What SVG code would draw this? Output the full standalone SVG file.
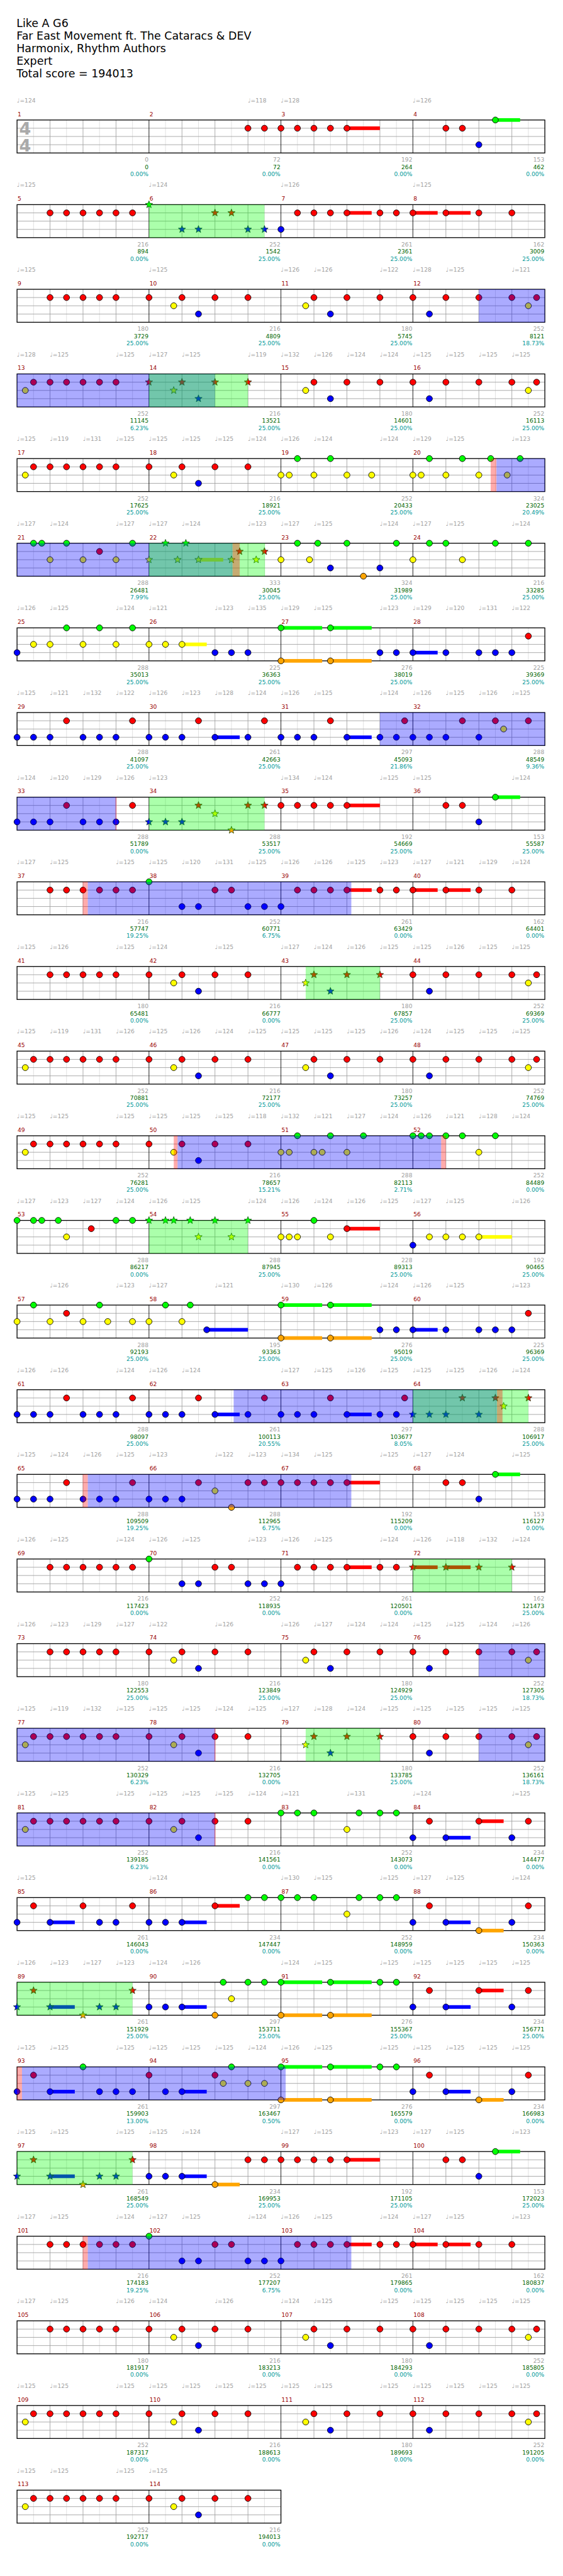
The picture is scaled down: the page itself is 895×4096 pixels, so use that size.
<svg xmlns="http://www.w3.org/2000/svg" width="895" height="4096" viewBox="0 0 895 4096">
<defs>
<style>
text{font-family:"DejaVu Sans",sans-serif}
.h{font-size:20px;fill:#000}
.ts{font-size:31px;font-weight:bold;fill:#aaa}
.t{font-size:10.5px;fill:#a0a0a0}
.m{font-size:10.5px;fill:#900}
.c,.s,.p{font-size:10.5px;text-anchor:end}
.c{fill:#a0a0a0}.s{fill:#060}.p{fill:#099}
.ob{fill:#00f;fill-opacity:.33}.og{fill:#0f0;fill-opacity:.33}.or{fill:#f00;fill-opacity:.33}
.zg{fill:#0f0}.zr{fill:#f00}.zy{fill:#ff0}.zb{fill:#00f}.zo{fill:#ffa500}
</style>
<g id="g4">
<path d="M30 0V60M90 0V60M150 0V60M210 0V60M270 0V60M330 0V60M390 0V60M450 0V60M510 0V60M570 0V60M630 0V60M690 0V60M750 0V60M810 0V60M870 0V60M930 0V60" stroke="#ddd"/>
<path d="M0 15H960M0 30H960M0 45H960M60 0V60M120 0V60M180 0V60M300 0V60M360 0V60M420 0V60M540 0V60M600 0V60M660 0V60M780 0V60M840 0V60M900 0V60" stroke="#a0a0a0"/>
<path d="M240 0V60M480 0V60M720 0V60" stroke="#000"/>
<rect width="960" height="60" fill="none" stroke="#000" stroke-width="1.5"/>
</g>
<g id="g2">
<path d="M30 0V60M90 0V60M150 0V60M210 0V60M270 0V60M330 0V60M390 0V60M450 0V60" stroke="#ddd"/>
<path d="M0 15H480M0 30H480M0 45H480M60 0V60M120 0V60M180 0V60M300 0V60M360 0V60M420 0V60" stroke="#a0a0a0"/>
<path d="M240 0V60" stroke="#000"/>
<rect width="480" height="60" fill="none" stroke="#000" stroke-width="1.5"/>
</g>
<circle id="G" r="5.5" fill="#0f0" stroke="#000"/>
<circle id="R" cy="15" r="5.5" fill="#f00" stroke="#000"/>
<circle id="Y" cy="30" r="5.5" fill="#ff0" stroke="#000"/>
<circle id="B" cy="45" r="5.5" fill="#00f" stroke="#000"/>
<circle id="O" cy="60" r="5.5" fill="#ffa500" stroke="#000"/>
<polygon id="st" points="0,-7 1.76,-2.43 6.66,-2.16 2.85,0.93 4.11,5.66 0,3 -4.11,5.66 -2.85,0.93 -6.66,-2.16 -1.76,-2.43" stroke="#030" stroke-width=".8"/>
<use id="SG" href="#st" fill="#0f0"/>
<use id="SR" href="#st" y="15" fill="#f00"/>
<use id="SY" href="#st" y="30" fill="#ff0"/>
<use id="SB" href="#st" y="45" fill="#00f"/>
<use id="SO" href="#st" y="60" fill="#ffa500"/>
<g id="pA">
<use href="#R" x="60"/><use href="#R" x="90"/><use href="#R" x="120"/><use href="#R" x="150"/><use href="#R" x="180"/><use href="#R" x="240"/><use href="#R" x="300"/><use href="#R" x="360"/><use href="#R" x="420"/><use href="#R" x="540"/><use href="#R" x="600"/><use href="#R" x="660"/><use href="#R" x="720"/><use href="#R" x="780"/><use href="#R" x="840"/><use href="#R" x="900"/><use href="#R" x="945"/>
<use href="#Y" x="285"/><use href="#Y" x="525"/><use href="#Y" x="930"/>
<use href="#B" x="330"/><use href="#B" x="570"/><use href="#B" x="750"/>
</g>
<g id="pB"><use href="#pA"/><use href="#R" x="30"/><use href="#Y" x="15"/></g>
<g id="pC">
<rect class="zr" x="600" y="11.7" width="45" height="6.6"/><rect class="zr" x="720" y="11.7" width="45" height="6.6"/><rect class="zr" x="780" y="11.7" width="45" height="6.6"/>
<use href="#G" x="240"/>
<use href="#R" x="60"/><use href="#R" x="90"/><use href="#R" x="120"/><use href="#R" x="150"/><use href="#R" x="180"/><use href="#R" x="210"/><use href="#R" x="360"/><use href="#R" x="390"/><use href="#R" x="510"/><use href="#R" x="540"/><use href="#R" x="570"/><use href="#R" x="600"/><use href="#R" x="660"/><use href="#R" x="690"/><use href="#R" x="720"/><use href="#R" x="780"/><use href="#R" x="840"/><use href="#R" x="900"/>
<use href="#B" x="300"/><use href="#B" x="330"/><use href="#B" x="420"/><use href="#B" x="450"/><use href="#B" x="480"/>
</g>
</defs>
<rect width="895" height="4096" fill="#fff"/>
<g transform="scale(0.874)">
<g id="header">
<text class="h" x="30" y="49">Like A G6</text>
<text class="h" x="30" y="72">Far East Movement ft. The Cataracs &amp; DEV</text>
<text class="h" x="30" y="95">Harmonix, Rhythm Authors</text>
<text class="h" x="30" y="118">Expert</text>
<text class="h" x="30" y="141">Total score = 194013</text>
</g>

<g id="row1" transform="translate(31,218.3)">
<use href="#g4"/>
<text class="ts" x="4" y="27">4</text><text class="ts" x="4" y="57">4</text>
<rect class="zr" x="600" y="11.7" width="60" height="6.6"/><rect class="zg" x="870" y="-3.3" width="45" height="6.6"/>
<use href="#R" x="420"/><use href="#R" x="450"/><use href="#R" x="480"/><use href="#R" x="510"/><use href="#R" x="540"/><use href="#R" x="570"/><use href="#R" x="600"/><use href="#R" x="780"/><use href="#R" x="810"/><use href="#B" x="840"/><use href="#G" x="870"/>
<text class="t" x="0" y="-32">♩=124</text><text class="t" x="420" y="-32">♩=118</text><text class="t" x="480" y="-32">♩=128</text><text class="t" x="720" y="-32">♩=126</text>
<text class="m" x="1" y="-7">1</text><text class="m" x="241" y="-7">2</text><text class="m" x="481" y="-7">3</text><text class="m" x="721" y="-7">4</text>
<text class="c" x="239" y="76">0</text><text class="s" x="239" y="89">0</text><text class="p" x="239" y="102">0.00%</text>
<text class="c" x="479" y="76">72</text><text class="s" x="479" y="89">72</text><text class="p" x="479" y="102">0.00%</text>
<text class="c" x="719" y="76">192</text><text class="s" x="719" y="89">264</text><text class="p" x="719" y="102">0.00%</text>
<text class="c" x="959" y="76">153</text><text class="s" x="959" y="89">462</text><text class="p" x="959" y="102">0.00%</text>
</g>

<g id="row2" transform="translate(31,372.3)">
<use href="#g4"/>
<rect class="zr" x="600" y="11.7" width="45" height="6.6"/><rect class="zr" x="720" y="11.7" width="45" height="6.6"/><rect class="zr" x="780" y="11.7" width="45" height="6.6"/>
<use href="#R" x="60"/><use href="#R" x="90"/><use href="#R" x="120"/><use href="#R" x="150"/><use href="#R" x="180"/><use href="#R" x="210"/>
<use href="#SG" x="240"/><use href="#SB" x="300"/><use href="#SB" x="330"/><use href="#SR" x="360"/><use href="#SR" x="390"/><use href="#SB" x="420"/><use href="#SB" x="450"/>
<use href="#B" x="480"/><use href="#R" x="510"/><use href="#R" x="540"/><use href="#R" x="570"/><use href="#R" x="600"/><use href="#R" x="660"/><use href="#R" x="690"/><use href="#R" x="720"/><use href="#R" x="780"/><use href="#R" x="840"/><use href="#R" x="900"/>
<rect class="og" x="240" width="210" height="60"/>
<text class="t" x="0" y="-32">♩=125</text><text class="t" x="240" y="-32">♩=124</text><text class="t" x="480" y="-32">♩=126</text><text class="t" x="720" y="-32">♩=125</text>
<text class="m" x="1" y="-7">5</text><text class="m" x="241" y="-7">6</text><text class="m" x="481" y="-7">7</text><text class="m" x="721" y="-7">8</text>
<text class="c" x="239" y="76">216</text><text class="s" x="239" y="89">894</text><text class="p" x="239" y="102">0.00%</text>
<text class="c" x="479" y="76">252</text><text class="s" x="479" y="89">1542</text><text class="p" x="479" y="102">25.00%</text>
<text class="c" x="719" y="76">261</text><text class="s" x="719" y="89">2361</text><text class="p" x="719" y="102">25.00%</text>
<text class="c" x="959" y="76">162</text><text class="s" x="959" y="89">3009</text><text class="p" x="959" y="102">25.00%</text>
</g>

<g id="row3" transform="translate(31,526.3)">
<use href="#g4"/><use href="#pA"/>
<rect class="ob" x="840" width="120" height="60"/>
<text class="t" x="0" y="-32">♩=125</text><text class="t" x="240" y="-32">♩=125</text><text class="t" x="480" y="-32">♩=126</text><text class="t" x="540" y="-32">♩=126</text><text class="t" x="660" y="-32">♩=122</text><text class="t" x="720" y="-32">♩=128</text><text class="t" x="780" y="-32">♩=125</text><text class="t" x="900" y="-32">♩=121</text>
<text class="m" x="1" y="-7">9</text><text class="m" x="241" y="-7">10</text><text class="m" x="481" y="-7">11</text><text class="m" x="721" y="-7">12</text>
<text class="c" x="239" y="76">180</text><text class="s" x="239" y="89">3729</text><text class="p" x="239" y="102">25.00%</text>
<text class="c" x="479" y="76">216</text><text class="s" x="479" y="89">4809</text><text class="p" x="479" y="102">25.00%</text>
<text class="c" x="719" y="76">180</text><text class="s" x="719" y="89">5745</text><text class="p" x="719" y="102">25.00%</text>
<text class="c" x="959" y="76">252</text><text class="s" x="959" y="89">8121</text><text class="p" x="959" y="102">18.73%</text>
</g>

<g id="row4" transform="translate(31,680.3)">
<use href="#g4"/>
<use href="#R" x="30"/><use href="#R" x="60"/><use href="#R" x="90"/><use href="#R" x="120"/><use href="#R" x="150"/><use href="#R" x="180"/>
<use href="#SR" x="240"/><use href="#SR" x="300"/><use href="#SR" x="360"/><use href="#SR" x="420"/>
<use href="#R" x="540"/><use href="#R" x="600"/><use href="#R" x="660"/><use href="#R" x="720"/><use href="#R" x="780"/><use href="#R" x="840"/><use href="#R" x="900"/><use href="#R" x="945"/>
<use href="#Y" x="15"/><use href="#SY" x="285"/><use href="#Y" x="525"/><use href="#Y" x="930"/>
<use href="#SB" x="330"/><use href="#B" x="570"/><use href="#B" x="750"/>
<rect class="ob" x="0" width="360" height="60"/><rect class="og" x="240" width="180" height="60"/>
<text class="t" x="0" y="-32">♩=128</text><text class="t" x="60" y="-32">♩=125</text><text class="t" x="180" y="-32">♩=125</text><text class="t" x="240" y="-32">♩=127</text><text class="t" x="300" y="-32">♩=125</text><text class="t" x="420" y="-32">♩=119</text><text class="t" x="480" y="-32">♩=132</text><text class="t" x="540" y="-32">♩=126</text><text class="t" x="600" y="-32">♩=124</text><text class="t" x="660" y="-32">♩=124</text><text class="t" x="720" y="-32">♩=125</text><text class="t" x="780" y="-32">♩=125</text><text class="t" x="840" y="-32">♩=125</text><text class="t" x="900" y="-32">♩=125</text>
<text class="m" x="1" y="-7">13</text><text class="m" x="241" y="-7">14</text><text class="m" x="481" y="-7">15</text><text class="m" x="721" y="-7">16</text>
<text class="c" x="239" y="76">252</text><text class="s" x="239" y="89">11145</text><text class="p" x="239" y="102">6.23%</text>
<text class="c" x="479" y="76">216</text><text class="s" x="479" y="89">13521</text><text class="p" x="479" y="102">25.00%</text>
<text class="c" x="719" y="76">180</text><text class="s" x="719" y="89">14601</text><text class="p" x="719" y="102">25.00%</text>
<text class="c" x="959" y="76">252</text><text class="s" x="959" y="89">16113</text><text class="p" x="959" y="102">25.00%</text>
</g>

<g id="row5" transform="translate(31,834.3)">
<use href="#g4"/>
<use href="#R" x="30"/><use href="#R" x="60"/><use href="#R" x="90"/><use href="#R" x="120"/><use href="#R" x="150"/><use href="#R" x="180"/><use href="#R" x="240"/><use href="#R" x="300"/><use href="#R" x="360"/><use href="#R" x="420"/>
<use href="#Y" x="15"/><use href="#Y" x="285"/><use href="#Y" x="480"/><use href="#Y" x="495"/><use href="#Y" x="540"/><use href="#Y" x="600"/><use href="#Y" x="645"/><use href="#Y" x="720"/><use href="#Y" x="735"/><use href="#Y" x="780"/><use href="#Y" x="840"/><use href="#Y" x="891.5"/>
<use href="#G" x="510"/><use href="#G" x="570"/><use href="#G" x="750"/><use href="#G" x="810"/><use href="#G" x="861.5"/><use href="#G" x="915"/>
<use href="#B" x="330"/>
<rect class="or" x="861.5" width="10.5" height="60"/><rect class="ob" x="872" width="88" height="60"/>
<text class="t" x="0" y="-32">♩=125</text><text class="t" x="60" y="-32">♩=119</text><text class="t" x="120" y="-32">♩=131</text><text class="t" x="180" y="-32">♩=125</text><text class="t" x="240" y="-32">♩=125</text><text class="t" x="300" y="-32">♩=125</text><text class="t" x="360" y="-32">♩=125</text><text class="t" x="420" y="-32">♩=124</text><text class="t" x="480" y="-32">♩=126</text><text class="t" x="540" y="-32">♩=124</text><text class="t" x="660" y="-32">♩=124</text><text class="t" x="720" y="-32">♩=129</text><text class="t" x="780" y="-32">♩=125</text><text class="t" x="900" y="-32">♩=123</text>
<text class="m" x="1" y="-7">17</text><text class="m" x="241" y="-7">18</text><text class="m" x="481" y="-7">19</text><text class="m" x="721" y="-7">20</text>
<text class="c" x="239" y="76">252</text><text class="s" x="239" y="89">17625</text><text class="p" x="239" y="102">25.00%</text>
<text class="c" x="479" y="76">216</text><text class="s" x="479" y="89">18921</text><text class="p" x="479" y="102">25.00%</text>
<text class="c" x="719" y="76">252</text><text class="s" x="719" y="89">20433</text><text class="p" x="719" y="102">25.00%</text>
<text class="c" x="959" y="76">324</text><text class="s" x="959" y="89">23025</text><text class="p" x="959" y="102">20.49%</text>
</g>

<g id="row6" transform="translate(31,988.3)">
<use href="#g4"/>
<rect class="zy" x="330" y="26.7" width="45" height="6.6"/>
<use href="#G" x="30"/><use href="#G" x="45"/><use href="#G" x="90"/><use href="#G" x="210"/><use href="#SG" x="270"/><use href="#SG" x="307"/><use href="#G" x="510"/><use href="#G" x="547"/><use href="#G" x="600"/><use href="#G" x="690"/><use href="#G" x="750"/><use href="#G" x="780"/><use href="#G" x="870"/><use href="#G" x="930"/>
<use href="#R" x="150"/><use href="#SR" x="405"/><use href="#SR" x="450"/>
<use href="#Y" x="60"/><use href="#Y" x="120"/><use href="#Y" x="180"/><use href="#SY" x="240"/><use href="#SY" x="292"/><use href="#SY" x="330"/><use href="#SY" x="390"/><use href="#SY" x="435"/><use href="#Y" x="480"/><use href="#Y" x="532"/><use href="#Y" x="720"/><use href="#Y" x="810"/>
<use href="#B" x="570"/><use href="#B" x="660"/><use href="#O" x="630"/>
<rect class="ob" x="0" width="392" height="60"/><rect class="og" x="240" width="211" height="60"/><rect class="or" x="392" width="13" height="60"/>
<text class="t" x="0" y="-32">♩=127</text><text class="t" x="60" y="-32">♩=124</text><text class="t" x="180" y="-32">♩=127</text><text class="t" x="240" y="-32">♩=127</text><text class="t" x="300" y="-32">♩=124</text><text class="t" x="420" y="-32">♩=123</text><text class="t" x="480" y="-32">♩=127</text><text class="t" x="540" y="-32">♩=125</text><text class="t" x="660" y="-32">♩=124</text><text class="t" x="720" y="-32">♩=127</text><text class="t" x="780" y="-32">♩=125</text><text class="t" x="900" y="-32">♩=124</text>
<text class="m" x="1" y="-7">21</text><text class="m" x="241" y="-7">22</text><text class="m" x="481" y="-7">23</text><text class="m" x="721" y="-7">24</text>
<text class="c" x="239" y="76">288</text><text class="s" x="239" y="89">26481</text><text class="p" x="239" y="102">7.99%</text>
<text class="c" x="479" y="76">333</text><text class="s" x="479" y="89">30045</text><text class="p" x="479" y="102">25.00%</text>
<text class="c" x="719" y="76">324</text><text class="s" x="719" y="89">31989</text><text class="p" x="719" y="102">25.00%</text>
<text class="c" x="959" y="76">216</text><text class="s" x="959" y="89">33285</text><text class="p" x="959" y="102">25.00%</text>
</g>

<g id="row7" transform="translate(31,1142.3)">
<use href="#g4"/>
<rect class="zg" x="480" y="-3.3" width="75" height="6.6"/><rect class="zg" x="570" y="-3.3" width="75" height="6.6"/><rect class="zy" x="300" y="26.7" width="45" height="6.6"/><rect class="zb" x="720" y="41.7" width="45" height="6.6"/><rect class="zo" x="480" y="56.7" width="75" height="6.6"/><rect class="zo" x="570" y="56.7" width="75" height="6.6"/>
<use href="#G" x="90"/><use href="#G" x="150"/><use href="#G" x="210"/><use href="#G" x="480"/><use href="#G" x="570"/>
<use href="#R" x="930"/>
<use href="#Y" x="30"/><use href="#Y" x="60"/><use href="#Y" x="120"/><use href="#Y" x="180"/><use href="#Y" x="240"/><use href="#Y" x="270"/><use href="#Y" x="300"/>
<use href="#B" x="0"/><use href="#B" x="360"/><use href="#B" x="390"/><use href="#B" x="420"/><use href="#B" x="660"/><use href="#B" x="690"/><use href="#B" x="720"/><use href="#B" x="780"/><use href="#B" x="840"/><use href="#B" x="870"/><use href="#B" x="900"/>
<use href="#O" x="480"/><use href="#O" x="570"/>
<text class="t" x="0" y="-32">♩=126</text><text class="t" x="60" y="-32">♩=125</text><text class="t" x="180" y="-32">♩=124</text><text class="t" x="240" y="-32">♩=121</text><text class="t" x="360" y="-32">♩=123</text><text class="t" x="420" y="-32">♩=135</text><text class="t" x="480" y="-32">♩=129</text><text class="t" x="540" y="-32">♩=125</text><text class="t" x="660" y="-32">♩=123</text><text class="t" x="720" y="-32">♩=129</text><text class="t" x="780" y="-32">♩=120</text><text class="t" x="840" y="-32">♩=131</text><text class="t" x="900" y="-32">♩=122</text>
<text class="m" x="1" y="-7">25</text><text class="m" x="241" y="-7">26</text><text class="m" x="481" y="-7">27</text><text class="m" x="721" y="-7">28</text>
<text class="c" x="239" y="76">288</text><text class="s" x="239" y="89">35013</text><text class="p" x="239" y="102">25.00%</text>
<text class="c" x="479" y="76">225</text><text class="s" x="479" y="89">36363</text><text class="p" x="479" y="102">25.00%</text>
<text class="c" x="719" y="76">276</text><text class="s" x="719" y="89">38019</text><text class="p" x="719" y="102">25.00%</text>
<text class="c" x="959" y="76">225</text><text class="s" x="959" y="89">39369</text><text class="p" x="959" y="102">25.00%</text>
</g>

<g id="row8" transform="translate(31,1296.3)">
<use href="#g4"/>
<rect class="zb" x="360" y="41.7" width="45" height="6.6"/><rect class="zb" x="600" y="41.7" width="45" height="6.6"/>
<use href="#R" x="90"/><use href="#R" x="210"/><use href="#R" x="330"/><use href="#R" x="450"/><use href="#R" x="570"/><use href="#R" x="705"/><use href="#R" x="810"/><use href="#R" x="870"/><use href="#R" x="930"/>
<use href="#Y" x="885"/>
<use href="#B" x="0"/><use href="#B" x="30"/><use href="#B" x="60"/><use href="#B" x="120"/><use href="#B" x="150"/><use href="#B" x="180"/><use href="#B" x="240"/><use href="#B" x="270"/><use href="#B" x="300"/><use href="#B" x="360"/><use href="#B" x="420"/><use href="#B" x="480"/><use href="#B" x="510"/><use href="#B" x="540"/><use href="#B" x="600"/><use href="#B" x="660"/><use href="#B" x="690"/><use href="#B" x="720"/><use href="#B" x="750"/><use href="#B" x="780"/><use href="#B" x="840"/>
<rect class="ob" x="660" width="300" height="60"/>
<text class="t" x="0" y="-32">♩=125</text><text class="t" x="60" y="-32">♩=121</text><text class="t" x="120" y="-32">♩=132</text><text class="t" x="180" y="-32">♩=122</text><text class="t" x="240" y="-32">♩=126</text><text class="t" x="300" y="-32">♩=123</text><text class="t" x="360" y="-32">♩=128</text><text class="t" x="420" y="-32">♩=124</text><text class="t" x="480" y="-32">♩=126</text><text class="t" x="540" y="-32">♩=125</text><text class="t" x="660" y="-32">♩=124</text><text class="t" x="720" y="-32">♩=126</text><text class="t" x="780" y="-32">♩=125</text><text class="t" x="840" y="-32">♩=126</text><text class="t" x="900" y="-32">♩=125</text>
<text class="m" x="1" y="-7">29</text><text class="m" x="241" y="-7">30</text><text class="m" x="481" y="-7">31</text><text class="m" x="721" y="-7">32</text>
<text class="c" x="239" y="76">288</text><text class="s" x="239" y="89">41097</text><text class="p" x="239" y="102">25.00%</text>
<text class="c" x="479" y="76">261</text><text class="s" x="479" y="89">42663</text><text class="p" x="479" y="102">25.00%</text>
<text class="c" x="719" y="76">297</text><text class="s" x="719" y="89">45093</text><text class="p" x="719" y="102">21.86%</text>
<text class="c" x="959" y="76">288</text><text class="s" x="959" y="89">48549</text><text class="p" x="959" y="102">9.36%</text>
</g>

<g id="row9" transform="translate(31,1450.3)">
<use href="#g4"/>
<rect class="zg" x="870" y="-3.3" width="45" height="6.6"/><rect class="zr" x="600" y="11.7" width="60" height="6.6"/>
<use href="#G" x="870"/>
<use href="#R" x="90"/><use href="#R" x="210"/><use href="#SR" x="330"/><use href="#SR" x="420"/><use href="#SR" x="450"/><use href="#R" x="480"/><use href="#R" x="510"/><use href="#R" x="540"/><use href="#R" x="570"/><use href="#R" x="600"/><use href="#R" x="780"/><use href="#R" x="810"/>
<use href="#SY" x="360"/>
<use href="#B" x="0"/><use href="#B" x="30"/><use href="#B" x="60"/><use href="#B" x="120"/><use href="#B" x="150"/><use href="#B" x="180"/><use href="#SB" x="240"/><use href="#SB" x="270"/><use href="#SB" x="300"/><use href="#B" x="840"/>
<use href="#SO" x="390"/>
<rect class="ob" x="0" width="180" height="60"/><rect class="or" x="179" width="2" height="60"/><rect class="og" x="240" width="210" height="60"/>
<text class="t" x="0" y="-32">♩=124</text><text class="t" x="60" y="-32">♩=120</text><text class="t" x="120" y="-32">♩=129</text><text class="t" x="180" y="-32">♩=126</text><text class="t" x="240" y="-32">♩=123</text><text class="t" x="480" y="-32">♩=134</text><text class="t" x="540" y="-32">♩=124</text><text class="t" x="660" y="-32">♩=125</text><text class="t" x="720" y="-32">♩=125</text><text class="t" x="900" y="-32">♩=124</text>
<text class="m" x="1" y="-7">33</text><text class="m" x="241" y="-7">34</text><text class="m" x="481" y="-7">35</text><text class="m" x="721" y="-7">36</text>
<text class="c" x="239" y="76">288</text><text class="s" x="239" y="89">51789</text><text class="p" x="239" y="102">0.00%</text>
<text class="c" x="479" y="76">288</text><text class="s" x="479" y="89">53517</text><text class="p" x="479" y="102">25.00%</text>
<text class="c" x="719" y="76">192</text><text class="s" x="719" y="89">54669</text><text class="p" x="719" y="102">25.00%</text>
<text class="c" x="959" y="76">153</text><text class="s" x="959" y="89">55587</text><text class="p" x="959" y="102">25.00%</text>
</g>

<g id="row10" transform="translate(31,1604.3)">
<use href="#g4"/><use href="#pC"/>
<rect class="or" x="119.5" width="9.2" height="60"/><rect class="ob" x="128.7" width="479.3" height="60"/>
<text class="t" x="0" y="-32">♩=127</text><text class="t" x="60" y="-32">♩=125</text><text class="t" x="180" y="-32">♩=125</text><text class="t" x="240" y="-32">♩=125</text><text class="t" x="300" y="-32">♩=120</text><text class="t" x="360" y="-32">♩=131</text><text class="t" x="420" y="-32">♩=125</text><text class="t" x="480" y="-32">♩=126</text><text class="t" x="540" y="-32">♩=126</text><text class="t" x="600" y="-32">♩=125</text><text class="t" x="660" y="-32">♩=123</text><text class="t" x="720" y="-32">♩=127</text><text class="t" x="780" y="-32">♩=121</text><text class="t" x="840" y="-32">♩=129</text><text class="t" x="900" y="-32">♩=124</text>
<text class="m" x="1" y="-7">37</text><text class="m" x="241" y="-7">38</text><text class="m" x="481" y="-7">39</text><text class="m" x="721" y="-7">40</text>
<text class="c" x="239" y="76">216</text><text class="s" x="239" y="89">57747</text><text class="p" x="239" y="102">19.25%</text>
<text class="c" x="479" y="76">252</text><text class="s" x="479" y="89">60771</text><text class="p" x="479" y="102">6.75%</text>
<text class="c" x="719" y="76">261</text><text class="s" x="719" y="89">63429</text><text class="p" x="719" y="102">0.00%</text>
<text class="c" x="959" y="76">162</text><text class="s" x="959" y="89">64401</text><text class="p" x="959" y="102">0.00%</text>
</g>

<g id="row11" transform="translate(31,1758.3)">
<use href="#g4"/>
<use href="#R" x="60"/><use href="#R" x="90"/><use href="#R" x="120"/><use href="#R" x="150"/><use href="#R" x="180"/><use href="#R" x="240"/><use href="#R" x="300"/><use href="#R" x="360"/><use href="#R" x="420"/>
<use href="#SR" x="540"/><use href="#SR" x="600"/><use href="#SR" x="660"/>
<use href="#R" x="720"/><use href="#R" x="780"/><use href="#R" x="840"/><use href="#R" x="900"/><use href="#R" x="945"/>
<use href="#Y" x="285"/><use href="#SY" x="525"/><use href="#Y" x="930"/>
<use href="#B" x="330"/><use href="#SB" x="570"/><use href="#B" x="750"/>
<rect class="og" x="525" width="135" height="60"/>
<text class="t" x="0" y="-32">♩=125</text><text class="t" x="60" y="-32">♩=126</text><text class="t" x="180" y="-32">♩=125</text><text class="t" x="240" y="-32">♩=124</text><text class="t" x="360" y="-32">♩=125</text><text class="t" x="480" y="-32">♩=127</text><text class="t" x="540" y="-32">♩=124</text><text class="t" x="600" y="-32">♩=126</text><text class="t" x="660" y="-32">♩=125</text><text class="t" x="720" y="-32">♩=125</text><text class="t" x="780" y="-32">♩=126</text><text class="t" x="840" y="-32">♩=125</text><text class="t" x="900" y="-32">♩=125</text>
<text class="m" x="1" y="-7">41</text><text class="m" x="241" y="-7">42</text><text class="m" x="481" y="-7">43</text><text class="m" x="721" y="-7">44</text>
<text class="c" x="239" y="76">180</text><text class="s" x="239" y="89">65481</text><text class="p" x="239" y="102">0.00%</text>
<text class="c" x="479" y="76">216</text><text class="s" x="479" y="89">66777</text><text class="p" x="479" y="102">0.00%</text>
<text class="c" x="719" y="76">180</text><text class="s" x="719" y="89">67857</text><text class="p" x="719" y="102">25.00%</text>
<text class="c" x="959" y="76">252</text><text class="s" x="959" y="89">69369</text><text class="p" x="959" y="102">25.00%</text>
</g>

<g id="row12" transform="translate(31,1912.3)">
<use href="#g4"/><use href="#pB"/>
<text class="t" x="0" y="-32">♩=125</text><text class="t" x="60" y="-32">♩=119</text><text class="t" x="120" y="-32">♩=131</text><text class="t" x="180" y="-32">♩=126</text><text class="t" x="240" y="-32">♩=125</text><text class="t" x="300" y="-32">♩=126</text><text class="t" x="360" y="-32">♩=124</text><text class="t" x="420" y="-32">♩=125</text><text class="t" x="480" y="-32">♩=125</text><text class="t" x="540" y="-32">♩=125</text><text class="t" x="600" y="-32">♩=125</text><text class="t" x="660" y="-32">♩=126</text><text class="t" x="720" y="-32">♩=124</text><text class="t" x="780" y="-32">♩=125</text><text class="t" x="840" y="-32">♩=125</text><text class="t" x="900" y="-32">♩=125</text>
<text class="m" x="1" y="-7">45</text><text class="m" x="241" y="-7">46</text><text class="m" x="481" y="-7">47</text><text class="m" x="721" y="-7">48</text>
<text class="c" x="239" y="76">252</text><text class="s" x="239" y="89">70881</text><text class="p" x="239" y="102">25.00%</text>
<text class="c" x="479" y="76">216</text><text class="s" x="479" y="89">72177</text><text class="p" x="479" y="102">25.00%</text>
<text class="c" x="719" y="76">180</text><text class="s" x="719" y="89">73257</text><text class="p" x="719" y="102">25.00%</text>
<text class="c" x="959" y="76">252</text><text class="s" x="959" y="89">74769</text><text class="p" x="959" y="102">25.00%</text>
</g>

<g id="row13" transform="translate(31,2066.3)">
<use href="#g4"/>
<use href="#G" x="510"/><use href="#G" x="570"/><use href="#G" x="630"/><use href="#G" x="720"/><use href="#G" x="735"/><use href="#G" x="750"/><use href="#G" x="780"/><use href="#G" x="810"/><use href="#G" x="870"/>
<use href="#R" x="30"/><use href="#R" x="60"/><use href="#R" x="90"/><use href="#R" x="120"/><use href="#R" x="150"/><use href="#R" x="180"/><use href="#R" x="240"/><use href="#R" x="300"/><use href="#R" x="360"/><use href="#R" x="420"/>
<use href="#Y" x="15"/><use href="#Y" x="285"/><use href="#Y" x="480"/><use href="#Y" x="495"/><use href="#Y" x="540"/><use href="#Y" x="555"/><use href="#Y" x="600"/><use href="#Y" x="840"/>
<use href="#B" x="330"/>
<rect class="or" x="285" width="7" height="60"/><rect class="ob" x="292" width="479.4" height="60"/><rect class="or" x="771.4" width="8.6" height="60"/>
<text class="t" x="0" y="-32">♩=125</text><text class="t" x="60" y="-32">♩=125</text><text class="t" x="180" y="-32">♩=125</text><text class="t" x="240" y="-32">♩=125</text><text class="t" x="300" y="-32">♩=125</text><text class="t" x="360" y="-32">♩=125</text><text class="t" x="420" y="-32">♩=118</text><text class="t" x="480" y="-32">♩=132</text><text class="t" x="540" y="-32">♩=121</text><text class="t" x="600" y="-32">♩=127</text><text class="t" x="660" y="-32">♩=124</text><text class="t" x="720" y="-32">♩=126</text><text class="t" x="780" y="-32">♩=121</text><text class="t" x="840" y="-32">♩=128</text><text class="t" x="900" y="-32">♩=124</text>
<text class="m" x="1" y="-7">49</text><text class="m" x="241" y="-7">50</text><text class="m" x="481" y="-7">51</text><text class="m" x="721" y="-7">52</text>
<text class="c" x="239" y="76">252</text><text class="s" x="239" y="89">76281</text><text class="p" x="239" y="102">25.00%</text>
<text class="c" x="479" y="76">216</text><text class="s" x="479" y="89">78657</text><text class="p" x="479" y="102">15.21%</text>
<text class="c" x="719" y="76">288</text><text class="s" x="719" y="89">82113</text><text class="p" x="719" y="102">2.71%</text>
<text class="c" x="959" y="76">252</text><text class="s" x="959" y="89">84489</text><text class="p" x="959" y="102">0.00%</text>
</g>

<g id="row14" transform="translate(31,2220.3)">
<use href="#g4"/>
<rect class="zr" x="600" y="11.7" width="60" height="6.6"/><rect class="zy" x="840" y="26.7" width="60" height="6.6"/>
<use href="#G" x="0"/><use href="#G" x="30"/><use href="#G" x="45"/><use href="#G" x="75"/><use href="#G" x="180"/><use href="#G" x="210"/>
<use href="#SG" x="240"/><use href="#SG" x="270"/><use href="#SG" x="285"/><use href="#SG" x="315"/><use href="#SG" x="360"/><use href="#SG" x="420"/><use href="#G" x="540"/>
<use href="#R" x="135"/><use href="#R" x="600"/>
<use href="#Y" x="90"/><use href="#SY" x="330"/><use href="#SY" x="390"/><use href="#Y" x="480"/><use href="#Y" x="495"/><use href="#Y" x="510"/><use href="#Y" x="570"/><use href="#Y" x="750"/><use href="#Y" x="780"/><use href="#Y" x="810"/><use href="#Y" x="840"/>
<use href="#B" x="720"/>
<rect class="og" x="240" width="180" height="60"/>
<text class="t" x="0" y="-32">♩=127</text><text class="t" x="60" y="-32">♩=123</text><text class="t" x="120" y="-32">♩=127</text><text class="t" x="180" y="-32">♩=124</text><text class="t" x="240" y="-32">♩=126</text><text class="t" x="300" y="-32">♩=125</text><text class="t" x="420" y="-32">♩=124</text><text class="t" x="480" y="-32">♩=126</text><text class="t" x="540" y="-32">♩=124</text><text class="t" x="600" y="-32">♩=126</text><text class="t" x="660" y="-32">♩=125</text><text class="t" x="720" y="-32">♩=127</text><text class="t" x="780" y="-32">♩=125</text><text class="t" x="900" y="-32">♩=126</text>
<text class="m" x="1" y="-7">53</text><text class="m" x="241" y="-7">54</text><text class="m" x="481" y="-7">55</text><text class="m" x="721" y="-7">56</text>
<text class="c" x="239" y="76">288</text><text class="s" x="239" y="89">86217</text><text class="p" x="239" y="102">0.00%</text>
<text class="c" x="479" y="76">288</text><text class="s" x="479" y="89">87945</text><text class="p" x="479" y="102">25.00%</text>
<text class="c" x="719" y="76">228</text><text class="s" x="719" y="89">89313</text><text class="p" x="719" y="102">25.00%</text>
<text class="c" x="959" y="76">192</text><text class="s" x="959" y="89">90465</text><text class="p" x="959" y="102">25.00%</text>
</g>

<g id="row15" transform="translate(31,2374.3)">
<use href="#g4"/>
<rect class="zg" x="480" y="-3.3" width="75" height="6.6"/><rect class="zg" x="570" y="-3.3" width="75" height="6.6"/><rect class="zb" x="345" y="41.7" width="75" height="6.6"/><rect class="zb" x="720" y="41.7" width="45" height="6.6"/><rect class="zo" x="480" y="56.7" width="75" height="6.6"/><rect class="zo" x="570" y="56.7" width="75" height="6.6"/>
<use href="#G" x="30"/><use href="#G" x="150"/><use href="#G" x="270"/><use href="#G" x="315"/><use href="#G" x="480"/><use href="#G" x="570"/>
<use href="#R" x="90"/><use href="#R" x="930"/>
<use href="#Y" x="0"/><use href="#Y" x="60"/><use href="#Y" x="120"/><use href="#Y" x="165"/><use href="#Y" x="210"/><use href="#Y" x="240"/><use href="#Y" x="300"/>
<use href="#B" x="345"/><use href="#B" x="660"/><use href="#B" x="690"/><use href="#B" x="720"/><use href="#B" x="780"/><use href="#B" x="840"/><use href="#B" x="870"/><use href="#B" x="900"/>
<use href="#O" x="480"/><use href="#O" x="570"/>
<text class="t" x="60" y="-32">♩=126</text><text class="t" x="180" y="-32">♩=123</text><text class="t" x="240" y="-32">♩=127</text><text class="t" x="360" y="-32">♩=121</text><text class="t" x="480" y="-32">♩=130</text><text class="t" x="540" y="-32">♩=126</text><text class="t" x="660" y="-32">♩=124</text><text class="t" x="720" y="-32">♩=126</text><text class="t" x="780" y="-32">♩=125</text><text class="t" x="900" y="-32">♩=123</text>
<text class="m" x="1" y="-7">57</text><text class="m" x="241" y="-7">58</text><text class="m" x="481" y="-7">59</text><text class="m" x="721" y="-7">60</text>
<text class="c" x="239" y="76">288</text><text class="s" x="239" y="89">92193</text><text class="p" x="239" y="102">25.00%</text>
<text class="c" x="479" y="76">195</text><text class="s" x="479" y="89">93363</text><text class="p" x="479" y="102">25.00%</text>
<text class="c" x="719" y="76">276</text><text class="s" x="719" y="89">95019</text><text class="p" x="719" y="102">25.00%</text>
<text class="c" x="959" y="76">225</text><text class="s" x="959" y="89">96369</text><text class="p" x="959" y="102">25.00%</text>
</g>

<g id="row16" transform="translate(31,2528.3)">
<use href="#g4"/>
<rect class="zb" x="360" y="41.7" width="45" height="6.6"/><rect class="zb" x="600" y="41.7" width="45" height="6.6"/>
<use href="#R" x="90"/><use href="#R" x="210"/><use href="#R" x="330"/><use href="#R" x="450"/><use href="#R" x="570"/><use href="#R" x="705"/><use href="#SR" x="810"/><use href="#SR" x="870"/><use href="#SR" x="930"/>
<use href="#SY" x="885"/>
<use href="#B" x="0"/><use href="#B" x="30"/><use href="#B" x="60"/><use href="#B" x="120"/><use href="#B" x="150"/><use href="#B" x="180"/><use href="#B" x="240"/><use href="#B" x="270"/><use href="#B" x="300"/><use href="#B" x="360"/><use href="#B" x="420"/><use href="#B" x="480"/><use href="#B" x="510"/><use href="#B" x="540"/><use href="#B" x="600"/><use href="#B" x="660"/><use href="#B" x="690"/>
<use href="#SB" x="720"/><use href="#SB" x="750"/><use href="#SB" x="780"/><use href="#SB" x="840"/>
<rect class="ob" x="394" width="479" height="60"/><rect class="og" x="720" width="210" height="60"/><rect class="or" x="873" width="10" height="60"/>
<text class="t" x="0" y="-32">♩=126</text><text class="t" x="60" y="-32">♩=126</text><text class="t" x="180" y="-32">♩=124</text><text class="t" x="240" y="-32">♩=126</text><text class="t" x="300" y="-32">♩=124</text><text class="t" x="480" y="-32">♩=127</text><text class="t" x="540" y="-32">♩=125</text><text class="t" x="600" y="-32">♩=126</text><text class="t" x="660" y="-32">♩=125</text><text class="t" x="720" y="-32">♩=125</text><text class="t" x="780" y="-32">♩=125</text><text class="t" x="840" y="-32">♩=126</text><text class="t" x="900" y="-32">♩=124</text>
<text class="m" x="1" y="-7">61</text><text class="m" x="241" y="-7">62</text><text class="m" x="481" y="-7">63</text><text class="m" x="721" y="-7">64</text>
<text class="c" x="239" y="76">288</text><text class="s" x="239" y="89">98097</text><text class="p" x="239" y="102">25.00%</text>
<text class="c" x="479" y="76">261</text><text class="s" x="479" y="89">100113</text><text class="p" x="479" y="102">20.55%</text>
<text class="c" x="719" y="76">297</text><text class="s" x="719" y="89">103677</text><text class="p" x="719" y="102">8.05%</text>
<text class="c" x="959" y="76">288</text><text class="s" x="959" y="89">106917</text><text class="p" x="959" y="102">25.00%</text>
</g>

<g id="row17" transform="translate(31,2682.3)">
<use href="#g4"/>
<rect class="zg" x="870" y="-3.3" width="45" height="6.6"/><rect class="zr" x="600" y="11.7" width="60" height="6.6"/>
<use href="#G" x="870"/>
<use href="#R" x="90"/><use href="#R" x="210"/><use href="#R" x="330"/><use href="#R" x="420"/><use href="#R" x="450"/><use href="#R" x="480"/><use href="#R" x="510"/><use href="#R" x="540"/><use href="#R" x="570"/><use href="#R" x="600"/><use href="#R" x="780"/><use href="#R" x="810"/>
<use href="#Y" x="360"/>
<use href="#B" x="0"/><use href="#B" x="30"/><use href="#B" x="60"/><use href="#B" x="120"/><use href="#B" x="150"/><use href="#B" x="180"/><use href="#B" x="240"/><use href="#B" x="270"/><use href="#B" x="300"/><use href="#B" x="840"/>
<use href="#O" x="390"/>
<rect class="or" x="119.5" width="9.2" height="60"/><rect class="ob" x="128.7" width="479.3" height="60"/>
<text class="t" x="0" y="-32">♩=125</text><text class="t" x="60" y="-32">♩=124</text><text class="t" x="120" y="-32">♩=126</text><text class="t" x="180" y="-32">♩=125</text><text class="t" x="240" y="-32">♩=123</text><text class="t" x="360" y="-32">♩=122</text><text class="t" x="420" y="-32">♩=123</text><text class="t" x="480" y="-32">♩=134</text><text class="t" x="540" y="-32">♩=125</text><text class="t" x="660" y="-32">♩=125</text><text class="t" x="720" y="-32">♩=127</text><text class="t" x="780" y="-32">♩=124</text><text class="t" x="900" y="-32">♩=125</text>
<text class="m" x="1" y="-7">65</text><text class="m" x="241" y="-7">66</text><text class="m" x="481" y="-7">67</text><text class="m" x="721" y="-7">68</text>
<text class="c" x="239" y="76">288</text><text class="s" x="239" y="89">109509</text><text class="p" x="239" y="102">19.25%</text>
<text class="c" x="479" y="76">288</text><text class="s" x="479" y="89">112965</text><text class="p" x="479" y="102">6.75%</text>
<text class="c" x="719" y="76">192</text><text class="s" x="719" y="89">115209</text><text class="p" x="719" y="102">0.00%</text>
<text class="c" x="959" y="76">153</text><text class="s" x="959" y="89">116127</text><text class="p" x="959" y="102">0.00%</text>
</g>

<g id="row18" transform="translate(31,2836.3)">
<use href="#g4"/>
<rect class="zr" x="600" y="11.7" width="45" height="6.6"/><rect class="zr" x="720" y="11.7" width="45" height="6.6"/><rect class="zr" x="780" y="11.7" width="45" height="6.6"/>
<use href="#G" x="240"/>
<use href="#R" x="60"/><use href="#R" x="90"/><use href="#R" x="120"/><use href="#R" x="150"/><use href="#R" x="180"/><use href="#R" x="210"/><use href="#R" x="360"/><use href="#R" x="390"/><use href="#R" x="510"/><use href="#R" x="540"/><use href="#R" x="570"/><use href="#R" x="600"/><use href="#R" x="660"/><use href="#R" x="690"/>
<use href="#SR" x="720"/><use href="#SR" x="780"/><use href="#SR" x="840"/><use href="#SR" x="900"/>
<use href="#B" x="300"/><use href="#B" x="330"/><use href="#B" x="420"/><use href="#B" x="450"/><use href="#B" x="480"/>
<rect class="og" x="720" width="180" height="60"/>
<text class="t" x="0" y="-32">♩=126</text><text class="t" x="60" y="-32">♩=125</text><text class="t" x="180" y="-32">♩=124</text><text class="t" x="240" y="-32">♩=126</text><text class="t" x="300" y="-32">♩=125</text><text class="t" x="420" y="-32">♩=123</text><text class="t" x="480" y="-32">♩=126</text><text class="t" x="540" y="-32">♩=125</text><text class="t" x="660" y="-32">♩=124</text><text class="t" x="720" y="-32">♩=126</text><text class="t" x="780" y="-32">♩=118</text><text class="t" x="840" y="-32">♩=132</text><text class="t" x="900" y="-32">♩=124</text>
<text class="m" x="1" y="-7">69</text><text class="m" x="241" y="-7">70</text><text class="m" x="481" y="-7">71</text><text class="m" x="721" y="-7">72</text>
<text class="c" x="239" y="76">216</text><text class="s" x="239" y="89">117423</text><text class="p" x="239" y="102">0.00%</text>
<text class="c" x="479" y="76">252</text><text class="s" x="479" y="89">118935</text><text class="p" x="479" y="102">0.00%</text>
<text class="c" x="719" y="76">261</text><text class="s" x="719" y="89">120501</text><text class="p" x="719" y="102">0.00%</text>
<text class="c" x="959" y="76">162</text><text class="s" x="959" y="89">121473</text><text class="p" x="959" y="102">25.00%</text>
</g>

<g id="row19" transform="translate(31,2990.3)">
<use href="#g4"/><use href="#pA"/>
<rect class="ob" x="840" width="120" height="60"/>
<text class="t" x="0" y="-32">♩=126</text><text class="t" x="60" y="-32">♩=123</text><text class="t" x="120" y="-32">♩=129</text><text class="t" x="180" y="-32">♩=127</text><text class="t" x="240" y="-32">♩=122</text><text class="t" x="360" y="-32">♩=126</text><text class="t" x="480" y="-32">♩=126</text><text class="t" x="540" y="-32">♩=127</text><text class="t" x="600" y="-32">♩=124</text><text class="t" x="660" y="-32">♩=124</text><text class="t" x="720" y="-32">♩=125</text><text class="t" x="780" y="-32">♩=125</text><text class="t" x="840" y="-32">♩=124</text><text class="t" x="900" y="-32">♩=126</text>
<text class="m" x="1" y="-7">73</text><text class="m" x="241" y="-7">74</text><text class="m" x="481" y="-7">75</text><text class="m" x="721" y="-7">76</text>
<text class="c" x="239" y="76">180</text><text class="s" x="239" y="89">122553</text><text class="p" x="239" y="102">25.00%</text>
<text class="c" x="479" y="76">216</text><text class="s" x="479" y="89">123849</text><text class="p" x="479" y="102">25.00%</text>
<text class="c" x="719" y="76">180</text><text class="s" x="719" y="89">124929</text><text class="p" x="719" y="102">25.00%</text>
<text class="c" x="959" y="76">252</text><text class="s" x="959" y="89">127305</text><text class="p" x="959" y="102">18.73%</text>
</g>

<g id="row20" transform="translate(31,3144.3)">
<use href="#g4"/>
<use href="#R" x="30"/><use href="#R" x="60"/><use href="#R" x="90"/><use href="#R" x="120"/><use href="#R" x="150"/><use href="#R" x="180"/><use href="#R" x="240"/><use href="#R" x="300"/><use href="#R" x="360"/><use href="#R" x="420"/>
<use href="#SR" x="540"/><use href="#SR" x="600"/><use href="#SR" x="660"/>
<use href="#R" x="720"/><use href="#R" x="780"/><use href="#R" x="840"/><use href="#R" x="900"/><use href="#R" x="945"/>
<use href="#Y" x="15"/><use href="#Y" x="285"/><use href="#SY" x="525"/><use href="#Y" x="930"/>
<use href="#B" x="330"/><use href="#SB" x="570"/><use href="#B" x="750"/>
<rect class="ob" x="0" width="360" height="60"/><rect class="or" x="359" width="2" height="60"/><rect class="og" x="525" width="135" height="60"/><rect class="ob" x="840" width="120" height="60"/>
<text class="t" x="0" y="-32">♩=125</text><text class="t" x="60" y="-32">♩=119</text><text class="t" x="120" y="-32">♩=132</text><text class="t" x="180" y="-32">♩=125</text><text class="t" x="240" y="-32">♩=125</text><text class="t" x="300" y="-32">♩=125</text><text class="t" x="360" y="-32">♩=124</text><text class="t" x="420" y="-32">♩=125</text><text class="t" x="480" y="-32">♩=127</text><text class="t" x="540" y="-32">♩=128</text><text class="t" x="600" y="-32">♩=124</text><text class="t" x="660" y="-32">♩=125</text><text class="t" x="720" y="-32">♩=125</text><text class="t" x="780" y="-32">♩=125</text><text class="t" x="840" y="-32">♩=125</text><text class="t" x="900" y="-32">♩=125</text>
<text class="m" x="1" y="-7">77</text><text class="m" x="241" y="-7">78</text><text class="m" x="481" y="-7">79</text><text class="m" x="721" y="-7">80</text>
<text class="c" x="239" y="76">252</text><text class="s" x="239" y="89">130329</text><text class="p" x="239" y="102">6.23%</text>
<text class="c" x="479" y="76">216</text><text class="s" x="479" y="89">132705</text><text class="p" x="479" y="102">0.00%</text>
<text class="c" x="719" y="76">180</text><text class="s" x="719" y="89">133785</text><text class="p" x="719" y="102">25.00%</text>
<text class="c" x="959" y="76">252</text><text class="s" x="959" y="89">136161</text><text class="p" x="959" y="102">18.73%</text>
</g>

<g id="row21" transform="translate(31,3298.3)">
<use href="#g4"/>
<rect class="zr" x="840" y="11.7" width="45" height="6.6"/><rect class="zb" x="780" y="41.7" width="45" height="6.6"/>
<use href="#G" x="480"/><use href="#G" x="510"/><use href="#G" x="540"/><use href="#G" x="622"/><use href="#G" x="660"/><use href="#G" x="690"/>
<use href="#R" x="30"/><use href="#R" x="60"/><use href="#R" x="90"/><use href="#R" x="120"/><use href="#R" x="150"/><use href="#R" x="180"/><use href="#R" x="240"/><use href="#R" x="300"/><use href="#R" x="360"/><use href="#R" x="420"/><use href="#R" x="750"/><use href="#R" x="840"/><use href="#R" x="930"/>
<use href="#Y" x="15"/><use href="#Y" x="285"/><use href="#Y" x="600"/>
<use href="#B" x="330"/><use href="#B" x="720"/><use href="#B" x="780"/><use href="#B" x="900"/>
<rect class="ob" x="0" width="360" height="60"/><rect class="or" x="359" width="2" height="60"/>
<text class="t" x="0" y="-32">♩=125</text><text class="t" x="60" y="-32">♩=125</text><text class="t" x="180" y="-32">♩=125</text><text class="t" x="240" y="-32">♩=125</text><text class="t" x="300" y="-32">♩=125</text><text class="t" x="360" y="-32">♩=125</text><text class="t" x="420" y="-32">♩=124</text><text class="t" x="480" y="-32">♩=121</text><text class="t" x="600" y="-32">♩=131</text><text class="t" x="720" y="-32">♩=124</text><text class="t" x="900" y="-32">♩=125</text>
<text class="m" x="1" y="-7">81</text><text class="m" x="241" y="-7">82</text><text class="m" x="481" y="-7">83</text><text class="m" x="721" y="-7">84</text>
<text class="c" x="239" y="76">252</text><text class="s" x="239" y="89">139185</text><text class="p" x="239" y="102">6.23%</text>
<text class="c" x="479" y="76">216</text><text class="s" x="479" y="89">141561</text><text class="p" x="479" y="102">0.00%</text>
<text class="c" x="719" y="76">252</text><text class="s" x="719" y="89">143073</text><text class="p" x="719" y="102">0.00%</text>
<text class="c" x="959" y="76">234</text><text class="s" x="959" y="89">144477</text><text class="p" x="959" y="102">0.00%</text>
</g>

<g id="row22" transform="translate(31,3452.3)">
<use href="#g4"/>
<rect class="zr" x="360" y="11.7" width="45" height="6.6"/><rect class="zb" x="60" y="41.7" width="45" height="6.6"/><rect class="zb" x="300" y="41.7" width="45" height="6.6"/><rect class="zb" x="780" y="41.7" width="45" height="6.6"/><rect class="zo" x="840" y="56.7" width="45" height="6.6"/>
<use href="#G" x="420"/><use href="#G" x="450"/><use href="#G" x="480"/><use href="#G" x="510"/><use href="#G" x="540"/><use href="#G" x="622"/><use href="#G" x="660"/><use href="#G" x="690"/>
<use href="#R" x="30"/><use href="#R" x="120"/><use href="#R" x="210"/><use href="#R" x="360"/><use href="#R" x="750"/><use href="#R" x="930"/>
<use href="#Y" x="600"/>
<use href="#B" x="0"/><use href="#B" x="60"/><use href="#B" x="150"/><use href="#B" x="180"/><use href="#B" x="240"/><use href="#B" x="270"/><use href="#B" x="300"/><use href="#B" x="720"/><use href="#B" x="780"/><use href="#B" x="900"/>
<use href="#O" x="840"/>
<text class="t" x="0" y="-32">♩=125</text><text class="t" x="240" y="-32">♩=124</text><text class="t" x="480" y="-32">♩=130</text><text class="t" x="540" y="-32">♩=125</text><text class="t" x="660" y="-32">♩=125</text><text class="t" x="720" y="-32">♩=127</text><text class="t" x="780" y="-32">♩=125</text><text class="t" x="900" y="-32">♩=124</text>
<text class="m" x="1" y="-7">85</text><text class="m" x="241" y="-7">86</text><text class="m" x="481" y="-7">87</text><text class="m" x="721" y="-7">88</text>
<text class="c" x="239" y="76">261</text><text class="s" x="239" y="89">146043</text><text class="p" x="239" y="102">0.00%</text>
<text class="c" x="479" y="76">234</text><text class="s" x="479" y="89">147447</text><text class="p" x="479" y="102">0.00%</text>
<text class="c" x="719" y="76">252</text><text class="s" x="719" y="89">148959</text><text class="p" x="719" y="102">0.00%</text>
<text class="c" x="959" y="76">234</text><text class="s" x="959" y="89">150363</text><text class="p" x="959" y="102">0.00%</text>
</g>

<g id="row23" transform="translate(31,3606.3)">
<use href="#g4"/>
<rect class="zg" x="480" y="-3.3" width="75" height="6.6"/><rect class="zg" x="570" y="-3.3" width="75" height="6.6"/><rect class="zr" x="840" y="11.7" width="45" height="6.6"/><rect class="zb" x="60" y="41.7" width="45" height="6.6"/><rect class="zb" x="300" y="41.7" width="45" height="6.6"/><rect class="zb" x="780" y="41.7" width="45" height="6.6"/><rect class="zo" x="480" y="56.7" width="75" height="6.6"/><rect class="zo" x="570" y="56.7" width="75" height="6.6"/>
<use href="#G" x="375"/><use href="#G" x="420"/><use href="#G" x="450"/><use href="#G" x="480"/><use href="#G" x="570"/><use href="#G" x="660"/><use href="#G" x="690"/>
<use href="#SR" x="30"/><use href="#SR" x="210"/><use href="#R" x="750"/><use href="#R" x="840"/><use href="#R" x="930"/>
<use href="#Y" x="390"/>
<use href="#SB" x="0"/><use href="#SB" x="60"/><use href="#SB" x="150"/><use href="#SB" x="180"/><use href="#B" x="240"/><use href="#B" x="270"/><use href="#B" x="300"/><use href="#B" x="720"/><use href="#B" x="780"/><use href="#B" x="900"/>
<use href="#SO" x="120"/><use href="#O" x="360"/><use href="#O" x="480"/><use href="#O" x="570"/>
<rect class="og" x="0" width="210" height="60"/>
<text class="t" x="0" y="-32">♩=126</text><text class="t" x="60" y="-32">♩=123</text><text class="t" x="120" y="-32">♩=127</text><text class="t" x="180" y="-32">♩=123</text><text class="t" x="240" y="-32">♩=124</text><text class="t" x="300" y="-32">♩=126</text><text class="t" x="480" y="-32">♩=124</text><text class="t" x="540" y="-32">♩=125</text><text class="t" x="660" y="-32">♩=125</text><text class="t" x="720" y="-32">♩=125</text><text class="t" x="780" y="-32">♩=125</text><text class="t" x="840" y="-32">♩=125</text><text class="t" x="900" y="-32">♩=125</text>
<text class="m" x="1" y="-7">89</text><text class="m" x="241" y="-7">90</text><text class="m" x="481" y="-7">91</text><text class="m" x="721" y="-7">92</text>
<text class="c" x="239" y="76">261</text><text class="s" x="239" y="89">151929</text><text class="p" x="239" y="102">25.00%</text>
<text class="c" x="479" y="76">297</text><text class="s" x="479" y="89">153711</text><text class="p" x="479" y="102">25.00%</text>
<text class="c" x="719" y="76">276</text><text class="s" x="719" y="89">155367</text><text class="p" x="719" y="102">25.00%</text>
<text class="c" x="959" y="76">234</text><text class="s" x="959" y="89">156771</text><text class="p" x="959" y="102">25.00%</text>
</g>

<g id="row24" transform="translate(31,3760.3)">
<use href="#g4"/>
<rect class="zg" x="480" y="-3.3" width="75" height="6.6"/><rect class="zg" x="570" y="-3.3" width="75" height="6.6"/><rect class="zb" x="60" y="41.7" width="45" height="6.6"/><rect class="zb" x="300" y="41.7" width="45" height="6.6"/><rect class="zb" x="780" y="41.7" width="45" height="6.6"/><rect class="zo" x="480" y="56.7" width="75" height="6.6"/><rect class="zo" x="570" y="56.7" width="75" height="6.6"/><rect class="zo" x="840" y="56.7" width="45" height="6.6"/>
<use href="#G" x="120"/><use href="#G" x="390"/><use href="#G" x="480"/><use href="#G" x="570"/><use href="#G" x="660"/><use href="#G" x="690"/>
<use href="#R" x="30"/><use href="#R" x="240"/><use href="#R" x="360"/><use href="#R" x="750"/><use href="#R" x="930"/>
<use href="#Y" x="375"/><use href="#Y" x="420"/><use href="#Y" x="450"/>
<use href="#B" x="0"/><use href="#B" x="60"/><use href="#B" x="150"/><use href="#B" x="180"/><use href="#B" x="210"/><use href="#B" x="270"/><use href="#B" x="300"/><use href="#B" x="720"/><use href="#B" x="780"/><use href="#B" x="900"/>
<use href="#O" x="480"/><use href="#O" x="570"/><use href="#O" x="840"/>
<rect class="or" x="0" width="9" height="60"/><rect class="ob" x="9" width="479.6" height="60"/>
<text class="t" x="0" y="-32">♩=125</text><text class="t" x="60" y="-32">♩=125</text><text class="t" x="180" y="-32">♩=125</text><text class="t" x="240" y="-32">♩=125</text><text class="t" x="300" y="-32">♩=125</text><text class="t" x="360" y="-32">♩=125</text><text class="t" x="420" y="-32">♩=124</text><text class="t" x="480" y="-32">♩=126</text><text class="t" x="540" y="-32">♩=125</text><text class="t" x="660" y="-32">♩=125</text><text class="t" x="720" y="-32">♩=125</text><text class="t" x="780" y="-32">♩=125</text><text class="t" x="840" y="-32">♩=125</text><text class="t" x="900" y="-32">♩=125</text>
<text class="m" x="1" y="-7">93</text><text class="m" x="241" y="-7">94</text><text class="m" x="481" y="-7">95</text><text class="m" x="721" y="-7">96</text>
<text class="c" x="239" y="76">261</text><text class="s" x="239" y="89">159903</text><text class="p" x="239" y="102">13.00%</text>
<text class="c" x="479" y="76">297</text><text class="s" x="479" y="89">163467</text><text class="p" x="479" y="102">0.50%</text>
<text class="c" x="719" y="76">276</text><text class="s" x="719" y="89">165579</text><text class="p" x="719" y="102">0.00%</text>
<text class="c" x="959" y="76">234</text><text class="s" x="959" y="89">166983</text><text class="p" x="959" y="102">0.00%</text>
</g>

<g id="row25" transform="translate(31,3914.3)">
<use href="#g4"/>
<rect class="zg" x="870" y="-3.3" width="45" height="6.6"/><rect class="zr" x="600" y="11.7" width="60" height="6.6"/><rect class="zb" x="60" y="41.7" width="45" height="6.6"/><rect class="zb" x="300" y="41.7" width="45" height="6.6"/><rect class="zo" x="360" y="56.7" width="45" height="6.6"/>
<use href="#G" x="870"/>
<use href="#SR" x="30"/><use href="#SR" x="210"/><use href="#R" x="420"/><use href="#R" x="450"/><use href="#R" x="480"/><use href="#R" x="510"/><use href="#R" x="540"/><use href="#R" x="570"/><use href="#R" x="600"/><use href="#R" x="780"/><use href="#R" x="810"/>
<use href="#SB" x="0"/><use href="#SB" x="60"/><use href="#SB" x="150"/><use href="#SB" x="180"/><use href="#B" x="240"/><use href="#B" x="270"/><use href="#B" x="300"/><use href="#B" x="840"/>
<use href="#SO" x="120"/><use href="#O" x="360"/>
<rect class="og" x="0" width="210" height="60"/>
<text class="t" x="0" y="-32">♩=125</text><text class="t" x="60" y="-32">♩=125</text><text class="t" x="180" y="-32">♩=125</text><text class="t" x="240" y="-32">♩=125</text><text class="t" x="300" y="-32">♩=124</text><text class="t" x="480" y="-32">♩=127</text><text class="t" x="540" y="-32">♩=125</text><text class="t" x="660" y="-32">♩=123</text><text class="t" x="720" y="-32">♩=127</text><text class="t" x="780" y="-32">♩=125</text><text class="t" x="900" y="-32">♩=123</text>
<text class="m" x="1" y="-7">97</text><text class="m" x="241" y="-7">98</text><text class="m" x="481" y="-7">99</text><text class="m" x="721" y="-7">100</text>
<text class="c" x="239" y="76">261</text><text class="s" x="239" y="89">168549</text><text class="p" x="239" y="102">25.00%</text>
<text class="c" x="479" y="76">234</text><text class="s" x="479" y="89">169953</text><text class="p" x="479" y="102">25.00%</text>
<text class="c" x="719" y="76">192</text><text class="s" x="719" y="89">171105</text><text class="p" x="719" y="102">25.00%</text>
<text class="c" x="959" y="76">153</text><text class="s" x="959" y="89">172023</text><text class="p" x="959" y="102">25.00%</text>
</g>

<g id="row26" transform="translate(31,4068.3)">
<use href="#g4"/><use href="#pC"/>
<rect class="or" x="119.5" width="9.2" height="60"/><rect class="ob" x="128.7" width="479.3" height="60"/>
<text class="t" x="0" y="-32">♩=127</text><text class="t" x="60" y="-32">♩=125</text><text class="t" x="180" y="-32">♩=124</text><text class="t" x="240" y="-32">♩=127</text><text class="t" x="300" y="-32">♩=125</text><text class="t" x="420" y="-32">♩=124</text><text class="t" x="480" y="-32">♩=126</text><text class="t" x="540" y="-32">♩=125</text><text class="t" x="660" y="-32">♩=124</text><text class="t" x="720" y="-32">♩=127</text><text class="t" x="780" y="-32">♩=125</text><text class="t" x="900" y="-32">♩=123</text>
<text class="m" x="1" y="-7">101</text><text class="m" x="241" y="-7">102</text><text class="m" x="481" y="-7">103</text><text class="m" x="721" y="-7">104</text>
<text class="c" x="239" y="76">216</text><text class="s" x="239" y="89">174183</text><text class="p" x="239" y="102">19.25%</text>
<text class="c" x="479" y="76">252</text><text class="s" x="479" y="89">177207</text><text class="p" x="479" y="102">6.75%</text>
<text class="c" x="719" y="76">261</text><text class="s" x="719" y="89">179865</text><text class="p" x="719" y="102">0.00%</text>
<text class="c" x="959" y="76">162</text><text class="s" x="959" y="89">180837</text><text class="p" x="959" y="102">0.00%</text>
</g>

<g id="row27" transform="translate(31,4222.3)">
<use href="#g4"/><use href="#pA"/>
<text class="t" x="0" y="-32">♩=127</text><text class="t" x="60" y="-32">♩=125</text><text class="t" x="180" y="-32">♩=126</text><text class="t" x="240" y="-32">♩=124</text><text class="t" x="360" y="-32">♩=126</text><text class="t" x="480" y="-32">♩=124</text><text class="t" x="540" y="-32">♩=125</text><text class="t" x="660" y="-32">♩=125</text><text class="t" x="720" y="-32">♩=125</text><text class="t" x="780" y="-32">♩=125</text><text class="t" x="840" y="-32">♩=125</text><text class="t" x="900" y="-32">♩=125</text>
<text class="m" x="1" y="-7">105</text><text class="m" x="241" y="-7">106</text><text class="m" x="481" y="-7">107</text><text class="m" x="721" y="-7">108</text>
<text class="c" x="239" y="76">180</text><text class="s" x="239" y="89">181917</text><text class="p" x="239" y="102">0.00%</text>
<text class="c" x="479" y="76">216</text><text class="s" x="479" y="89">183213</text><text class="p" x="479" y="102">0.00%</text>
<text class="c" x="719" y="76">180</text><text class="s" x="719" y="89">184293</text><text class="p" x="719" y="102">0.00%</text>
<text class="c" x="959" y="76">252</text><text class="s" x="959" y="89">185805</text><text class="p" x="959" y="102">0.00%</text>
</g>

<g id="row28" transform="translate(31,4376.3)">
<use href="#g4"/><use href="#pB"/>
<text class="t" x="0" y="-32">♩=125</text><text class="t" x="60" y="-32">♩=125</text><text class="t" x="180" y="-32">♩=125</text><text class="t" x="240" y="-32">♩=125</text><text class="t" x="300" y="-32">♩=125</text><text class="t" x="360" y="-32">♩=125</text><text class="t" x="420" y="-32">♩=125</text><text class="t" x="480" y="-32">♩=125</text><text class="t" x="540" y="-32">♩=125</text><text class="t" x="660" y="-32">♩=125</text><text class="t" x="720" y="-32">♩=125</text><text class="t" x="780" y="-32">♩=125</text><text class="t" x="840" y="-32">♩=125</text><text class="t" x="900" y="-32">♩=125</text>
<text class="m" x="1" y="-7">109</text><text class="m" x="241" y="-7">110</text><text class="m" x="481" y="-7">111</text><text class="m" x="721" y="-7">112</text>
<text class="c" x="239" y="76">252</text><text class="s" x="239" y="89">187317</text><text class="p" x="239" y="102">0.00%</text>
<text class="c" x="479" y="76">216</text><text class="s" x="479" y="89">188613</text><text class="p" x="479" y="102">0.00%</text>
<text class="c" x="719" y="76">180</text><text class="s" x="719" y="89">189693</text><text class="p" x="719" y="102">0.00%</text>
<text class="c" x="959" y="76">252</text><text class="s" x="959" y="89">191205</text><text class="p" x="959" y="102">0.00%</text>
</g>

<g id="row29" transform="translate(31,4530.3)">
<use href="#g2"/>
<use href="#R" x="30"/><use href="#R" x="60"/><use href="#R" x="90"/><use href="#R" x="120"/><use href="#R" x="150"/><use href="#R" x="180"/><use href="#R" x="240"/><use href="#R" x="300"/><use href="#R" x="360"/><use href="#R" x="420"/>
<use href="#Y" x="15"/><use href="#Y" x="285"/><use href="#B" x="330"/>
<text class="t" x="0" y="-32">♩=125</text><text class="t" x="60" y="-32">♩=125</text><text class="t" x="180" y="-32">♩=125</text><text class="t" x="240" y="-32">♩=125</text>
<text class="m" x="1" y="-7">113</text><text class="m" x="241" y="-7">114</text>
<text class="c" x="239" y="76">252</text><text class="s" x="239" y="89">192717</text><text class="p" x="239" y="102">0.00%</text>
<text class="c" x="479" y="76">216</text><text class="s" x="479" y="89">194013</text><text class="p" x="479" y="102">0.00%</text>
</g>
</g>
</svg>
